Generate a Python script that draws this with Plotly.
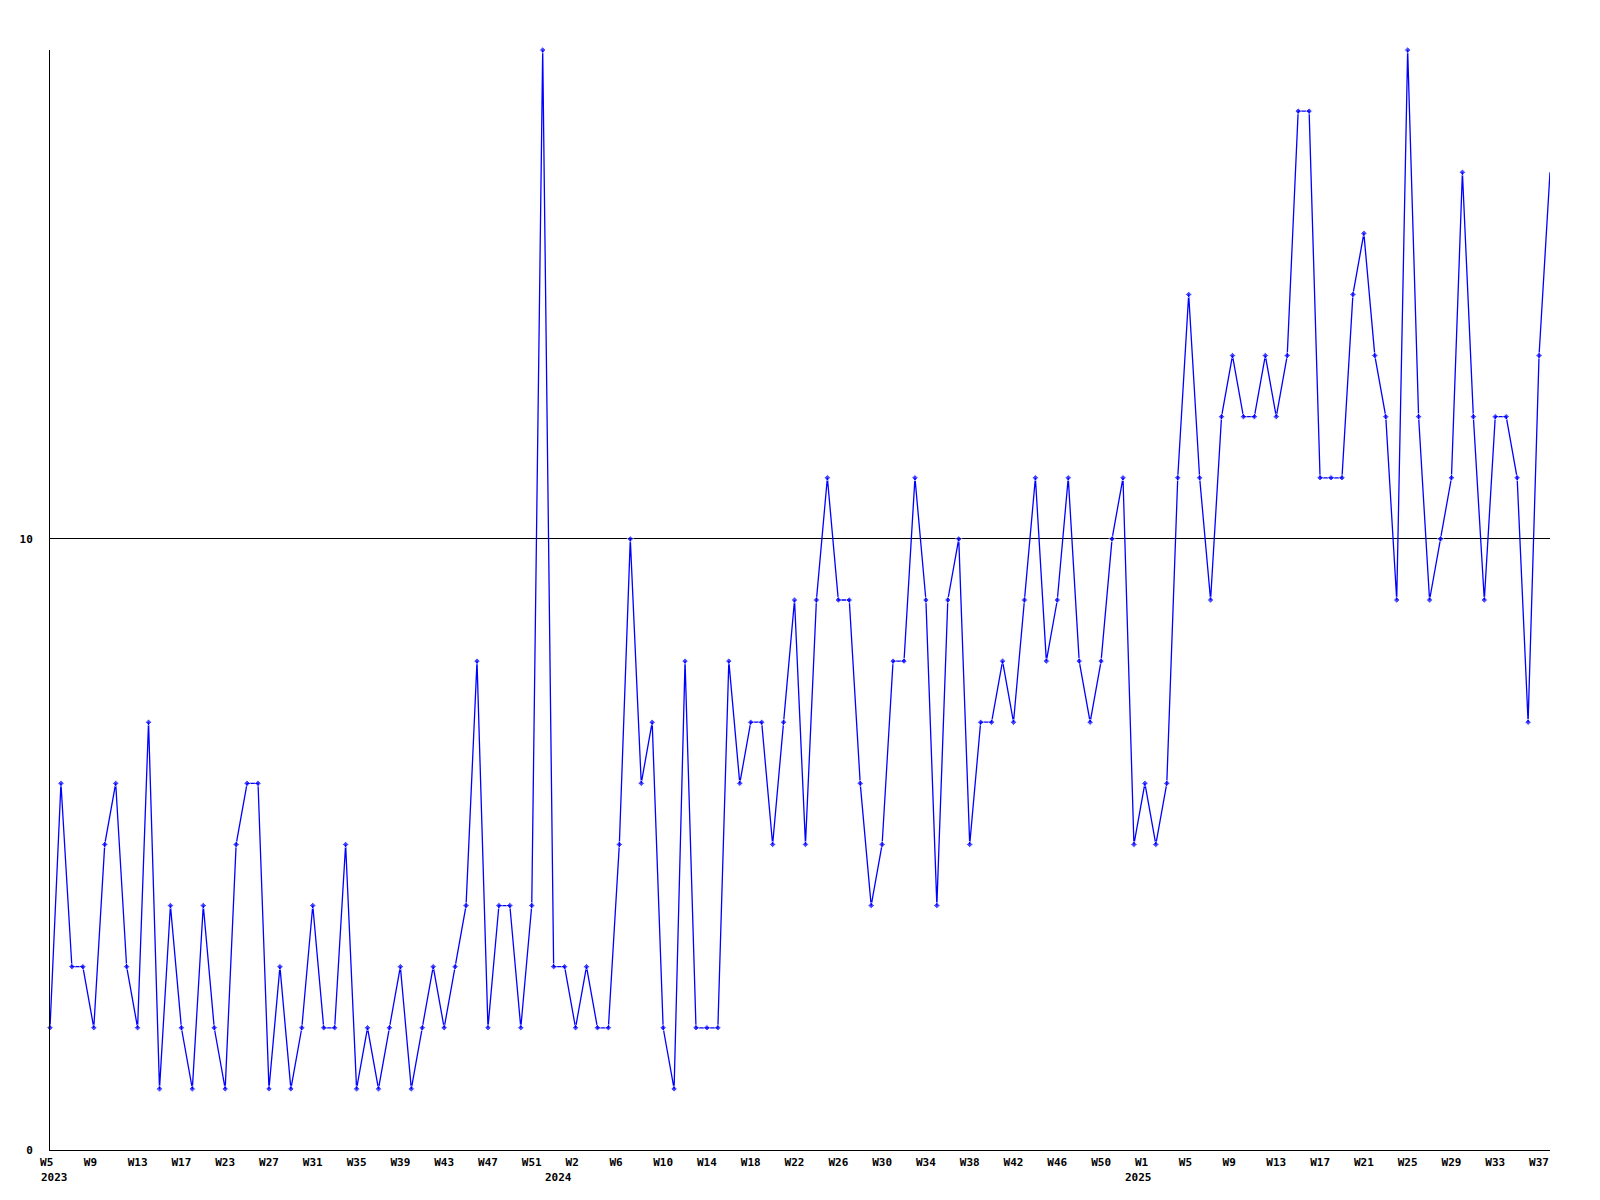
import plotly.graph_objects as go

# Weekly values, 2023 W5 onward (138 points)
values = [
    2, 6, 3, 3, 2, 5, 6, 3, 2, 7,
    1, 4, 2, 1, 4, 2, 1, 5, 6, 6,
    1, 3, 1, 2, 4, 2, 2, 5, 1, 2,
    1, 2, 3, 1, 2, 3, 2, 3, 4, 8,
    2, 4, 4, 2, 4, 18, 3, 3, 2, 3,
    2, 2, 5, 10, 6, 7, 2, 1, 8, 2,
    2, 2, 8, 6, 7, 7, 5, 7, 9, 5,
    9, 11, 9, 9, 6, 4, 5, 8, 8, 11,
    9, 4, 9, 10, 5, 7, 7, 8, 7, 9,
    11, 8, 9, 11, 8, 7, 8, 10, 11, 5,
    6, 5, 6, 11, 14, 11, 9, 12, 13, 12,
    12, 13, 12, 13, 17, 17, 11, 11, 11, 14,
    15, 13, 12, 9, 18, 12, 9, 10, 11, 16,
    12, 9, 12, 12, 11, 7, 13, 16,
]

tick_labels = [
    "W5\u00a0", "W9\u00a0", "W13", "W17", "W23", "W27", "W31", "W35", "W39",
    "W43", "W47", "W51", "W2\u00a0", "W6\u00a0", "W10", "W14", "W18", "W22",
    "W26", "W30", "W34", "W38", "W42", "W46", "W50", "W1\u00a0", "W5\u00a0",
    "W9\u00a0", "W13", "W17", "W21", "W25", "W29", "W33", "W37",
]
tick_step = 4

years = ["2023", "2024", "2025"]
year_start_index = [0, 46, 99]

x = list(range(len(values)))
tickvals = [i * tick_step for i in range(len(tick_labels))]
marker_sizes = [5] * (len(values) - 1) + [0]

fig = go.Figure()
fig.add_trace(go.Scatter(
    x=x, y=values, mode="lines+markers",
    line=dict(color="#0000ff", width=1.3),
    marker=dict(symbol="diamond", size=marker_sizes, color="#0000ff"),
    cliponaxis=False,
    showlegend=False,
))

font = dict(family="DejaVu Sans Mono", size=11, color="#000000", weight="bold")

for yr, xi in zip(years, year_start_index):
    fig.add_annotation(
        x=xi, xref="x", y=0, yref="paper",
        text=yr, showarrow=False, font=font,
        xanchor="left", yanchor="top", xshift=-11, yshift=-19,
        borderpad=1,
    )

fig.update_layout(
    width=1600, height=1200,
    margin=dict(l=42, r=58, t=42, b=58, autoexpand=False),
    paper_bgcolor="white", plot_bgcolor="white",
    xaxis=dict(
        range=[0, len(values) - 1],
        tickmode="array", tickvals=tickvals, ticktext=tick_labels,
        showgrid=False, zeroline=False,
        showline=True, linecolor="black", linewidth=1,
        ticks="", tickfont=font, ticklabelstandoff=2,
    ),
    yaxis=dict(
        range=[0, 18],
        tickmode="array", tickvals=[0, 10], ticktext=["0", "10"],
        showgrid=True, gridcolor="black", gridwidth=1,
        zeroline=False,
        showline=True, linecolor="black", linewidth=1,
        ticks="", tickfont=font, ticklabelstandoff=14,
    ),
)

fig.write_html("out.html")
